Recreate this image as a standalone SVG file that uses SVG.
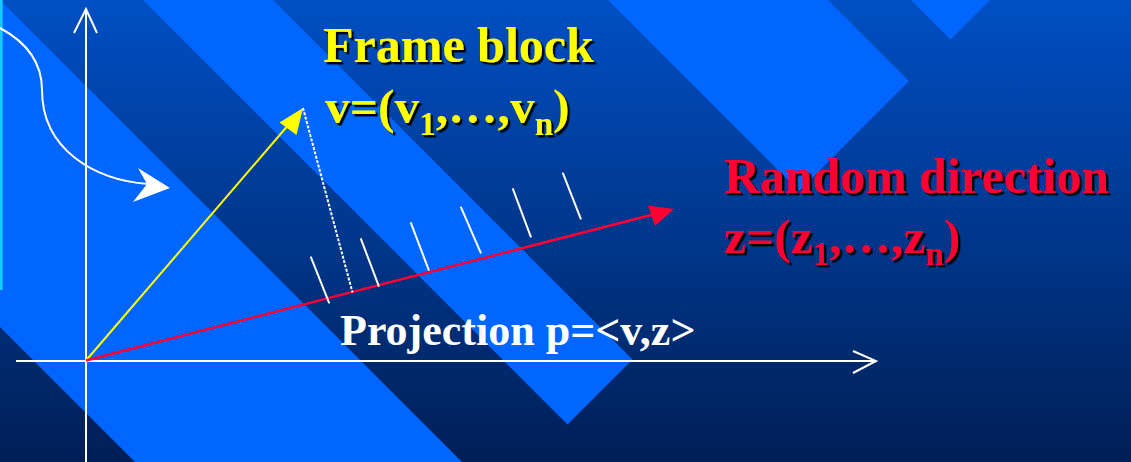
<svg xmlns="http://www.w3.org/2000/svg" width="1131" height="462" viewBox="0 0 1131 462">
<defs>
<linearGradient id="bg" x1="0" y1="0" x2="0" y2="1">
<stop offset="0" stop-color="#004fc4"/>
<stop offset="1" stop-color="#001f56"/>
</linearGradient>
<filter id="sh" x="-5%" y="-20%" width="110%" height="140%">
<feDropShadow dx="2.4" dy="2.4" stdDeviation="0" flood-color="#000" flood-opacity="1"/>
</filter>
<style>
.stripe{fill:#0066ff}
.lbl{font-family:"Liberation Serif","Times New Roman",serif;font-weight:bold}
.yel{fill:#ffff00;filter:url(#sh)}
.red{fill:#ff0033;filter:url(#sh)}
.wht{fill:#ffffff}
.ax{stroke:#fff;stroke-width:2;fill:none}
.tick{stroke:#fff;stroke-width:2;fill:none}
</style>
</defs>
<g id="background">
<rect x="0" y="0" width="1131" height="462" fill="url(#bg)"/>
<polygon class="stripe" points="0,0 462,462 135,462 0,327"/>
<polygon class="stripe" points="143,0 273,0 632.5,359.5 567.5,424.5"/>
<polygon class="stripe" points="608,0 828,0 909,81 799,191"/>
<polygon class="stripe" points="911,0 990,0 950.5,39.5"/>
<rect x="0" y="0" width="2.7" height="290" fill="#19c8ff"/>
</g>
<g id="connectors">
<g id="y-axis">
<line class="ax" x1="86" y1="462" x2="86" y2="9"/>
<polyline class="ax" points="74,33 86,9 97,33"/>
</g>
<g id="x-axis">
<line class="ax" x1="16" y1="361" x2="876" y2="361"/>
<polyline class="ax" points="853,351 876,361 853,373"/>
</g>
<g id="curved-arrow">
<path d="M0,28 C26,42 42,62 42,90 C42,150 95,180 148,184" fill="none" stroke="#fff" stroke-width="2"/>
<polygon points="170,188 138,168 147,184 133,202" fill="#fff"/>
</g>
<g id="vector-v">
<line x1="86" y1="360.5" x2="290" y2="123" stroke="#ffff00" stroke-width="2"/>
<polygon points="303,108 279.5,122.5 296.5,135" fill="#ffff00"/>
</g>
<g id="vector-z">
<line x1="86" y1="360.5" x2="655" y2="214" stroke="#ff0033" stroke-width="2.5"/>
<polygon points="674,209 648,205.5 655,226" fill="#ff0033"/>
</g>
<g id="projection-drop">
<line x1="303" y1="108" x2="352.5" y2="292.5" stroke="#fff" stroke-width="2" stroke-dasharray="3,1.5"/>
</g>
<g id="ticks">
<line class="tick" x1="310.7" y1="256.7" x2="329.3" y2="303.3"/>
<line class="tick" x1="360.7" y1="238.3" x2="379" y2="286.7"/>
<line class="tick" x1="410.7" y1="222.3" x2="429" y2="270.7"/>
<line class="tick" x1="460.7" y1="206.7" x2="481" y2="253.3"/>
<line class="tick" x1="512.7" y1="188.3" x2="531" y2="237.3"/>
<line class="tick" x1="562.7" y1="172.7" x2="581" y2="219.3"/>
</g>
</g>
<g id="frame-block-label">
<text class="lbl yel" x="323" y="62" font-size="50">Frame block</text>
<text class="lbl yel" x="325" y="123" font-size="49.5">v=(v<tspan font-size="33" dy="12">1</tspan><tspan dy="-12">,…,v</tspan><tspan font-size="33" dy="12">n</tspan><tspan dy="-12">)</tspan></text>
</g>
<g id="random-direction-label">
<text class="lbl red" x="724" y="193" font-size="49.8">Random direction</text>
<text class="lbl red" x="724" y="253" font-size="49.5">z=(z<tspan font-size="33" dy="12">1</tspan><tspan dy="-12">,…,z</tspan><tspan font-size="33" dy="12">n</tspan><tspan dy="-12">)</tspan></text>
</g>
<g id="projection-label">
<text class="lbl wht" x="340" y="345" font-size="44">Projection p=&lt;v,z&gt;</text>
</g>
</svg>
